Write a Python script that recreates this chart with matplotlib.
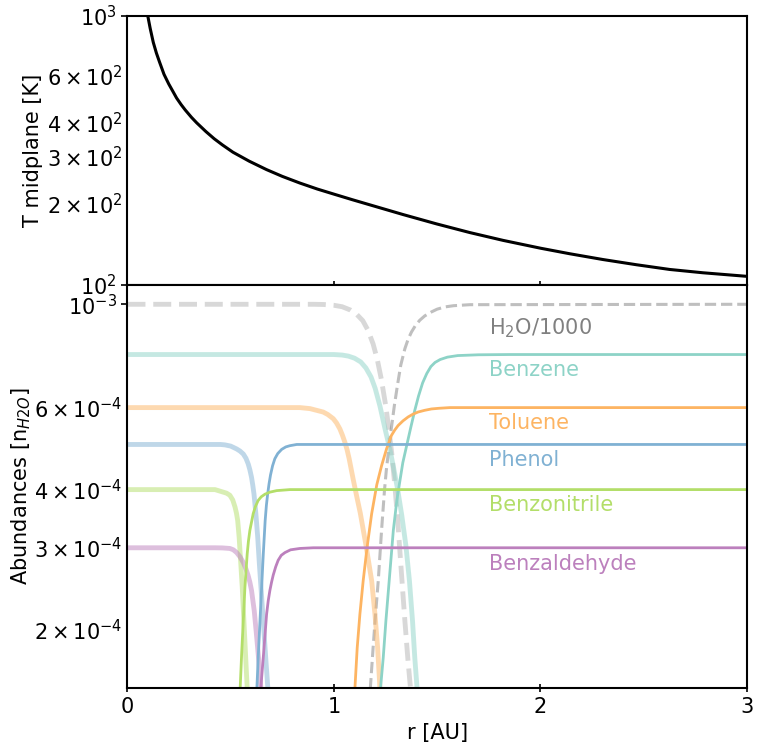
import numpy as np
import matplotlib.pyplot as plt

plt.rcParams['font.size'] = 15

# midplane temperature [K] vs r [AU]
r_T = [0.090, 0.098, 0.11, 0.125, 0.14, 0.155, 0.177, 0.2, 0.22, 0.238, 0.26, 0.28, 0.31,
       0.335, 0.38, 0.42, 0.46, 0.511, 0.59, 0.674, 0.75, 0.835, 0.92, 1.0, 1.09, 1.174,
       1.336, 1.497, 1.659, 1.820, 2.002, 2.143, 2.304, 2.466, 2.627, 2.789, 3.0]
T_mid = [1089, 1000, 896, 795, 726, 673, 605, 557, 523, 494, 467, 446, 419,
         400, 371, 349, 331, 311, 288, 268, 253, 239, 227, 217.4, 207.2, 198.4,
         182.5, 168.6, 156.5, 146.4, 136.9, 130.6, 124.3, 118.9, 114.2, 111.0, 107.7]

# abundances in units of 1e-4 (water divided by 1000)
h2o_ice_r = [0.0, 0.90, 0.95, 1.00, 1.04, 1.08, 1.11, 1.14, 1.165, 1.19, 1.21, 1.23, 1.25,
             1.265, 1.28, 1.295, 1.31, 1.328, 1.344, 1.358, 1.371, 1.385]
h2o_ice = [10.0, 10.0, 9.99, 9.95, 9.88, 9.72, 9.52, 9.22, 8.80, 8.22, 7.62, 6.90, 6.10,
           5.45, 4.80, 4.10, 3.40, 2.62, 2.09, 1.74, 1.50, 1.27]
h2o_gas_r = [1.165, 1.178, 1.190, 1.202, 1.215, 1.231, 1.245, 1.254, 1.264, 1.278, 1.293, 1.308,
             1.324, 1.344, 1.36, 1.376, 1.395, 1.416, 1.44, 1.473, 1.50, 1.538, 1.58, 1.659, 3.0]
h2o_gas = [1.27, 1.53, 1.83, 2.16, 2.55, 3.27, 3.98, 4.40, 4.81, 5.40, 6.06, 6.70,
           7.40, 8.03, 8.42, 8.72, 9.00, 9.24, 9.44, 9.63, 9.76, 9.87, 9.93, 9.98, 10.0]

bz_ice_r = [0.0, 1.0, 1.04, 1.07, 1.10, 1.13, 1.155, 1.18, 1.20, 1.223, 1.247, 1.271, 1.290,
            1.310, 1.329, 1.349, 1.366, 1.381, 1.392, 1.403, 1.414]
bz_ice = [7.8, 7.8, 7.78, 7.74, 7.66, 7.52, 7.30, 6.98, 6.60, 6.05, 5.42, 4.89, 4.44,
          3.98, 3.52, 3.03, 2.55, 2.09, 1.74, 1.50, 1.27]
bz_gas_r = [1.215, 1.226, 1.239, 1.252, 1.268, 1.288, 1.305, 1.320, 1.334, 1.353, 1.373, 1.392,
            1.41, 1.43, 1.45, 1.47, 1.49, 1.515, 1.55, 1.60, 1.70, 1.85, 3.0]
bz_gas = [1.27, 1.50, 1.74, 2.09, 2.55, 3.27, 3.79, 4.18, 4.57, 4.98, 5.45, 5.92,
          6.35, 6.78, 7.10, 7.35, 7.50, 7.61, 7.70, 7.76, 7.79, 7.8, 7.8]

tol_ice_r = [0.0, 0.835, 0.884, 0.948, 0.97, 0.997, 1.013, 1.029, 1.041, 1.053, 1.064, 1.074,
             1.093, 1.110, 1.128, 1.157, 1.183, 1.199, 1.212, 1.223, 1.232]
tol_ice = [6.0, 6.0, 5.97, 5.87, 5.80, 5.68, 5.56, 5.40, 5.24, 5.06, 4.87, 4.66,
           4.22, 3.88, 3.56, 3.01, 2.55, 2.16, 1.83, 1.50, 1.27]
tol_gas_r = [1.092, 1.102, 1.113, 1.126, 1.142, 1.161, 1.183, 1.208, 1.231, 1.255, 1.279, 1.295,
             1.311, 1.335, 1.360, 1.384, 1.408, 1.44, 1.473, 1.51, 1.562, 3.0]
tol_gas = [1.27, 1.50, 1.83, 2.16, 2.55, 3.01, 3.55, 4.10, 4.50, 4.89, 5.23, 5.37,
           5.49, 5.62, 5.73, 5.81, 5.87, 5.92, 5.96, 5.98, 6.0, 6.0]

ph_ice_r = [0.0, 0.45, 0.472, 0.50, 0.529, 0.545, 0.561, 0.574, 0.585, 0.593, 0.601, 0.607,
            0.613, 0.622, 0.631, 0.639, 0.650, 0.661, 0.671, 0.680, 0.691]
ph_ice = [5.0, 5.0, 4.99, 4.96, 4.89, 4.84, 4.77, 4.67, 4.54, 4.41, 4.25, 4.09,
          3.91, 3.55, 3.16, 2.77, 2.35, 1.99, 1.71, 1.50, 1.27]
ph_gas_r = [0.620, 0.627, 0.634, 0.642, 0.650, 0.658, 0.667, 0.673, 0.679, 0.686, 0.693, 0.703,
            0.714, 0.728, 0.747, 0.767, 0.787, 0.82, 3.0]
ph_gas = [1.27, 1.50, 1.77, 2.09, 2.47, 2.91, 3.43, 3.70, 3.91, 4.12, 4.30, 4.50,
          4.66, 4.78, 4.88, 4.94, 4.97, 5.0, 5.0]

bn_ice_r = [0.0, 0.424, 0.464, 0.48, 0.496, 0.51, 0.521, 0.528, 0.534, 0.541, 0.548, 0.556,
            0.564, 0.572, 0.580, 0.587]
bn_ice = [4.0, 4.0, 3.95, 3.93, 3.89, 3.80, 3.67, 3.56, 3.43, 3.16, 2.82, 2.47,
          2.09, 1.77, 1.50, 1.27]
bn_gas_r = [0.539, 0.546, 0.553, 0.561, 0.569, 0.580, 0.586, 0.593, 0.609, 0.62, 0.633, 0.648,
            0.666, 0.69, 0.723, 0.787, 3.0]
bn_gas = [1.27, 1.50, 1.77, 2.09, 2.47, 2.91, 3.10, 3.27, 3.55, 3.68, 3.79, 3.86,
          3.91, 3.95, 3.98, 4.0, 4.0]

ba_ice_r = [0.0, 0.424, 0.46, 0.496, 0.513, 0.529, 0.545, 0.561, 0.573, 0.584, 0.593, 0.601,
            0.614, 0.626, 0.637, 0.646, 0.656]
ba_ice = [3.0, 3.0, 2.998, 2.99, 2.97, 2.93, 2.87, 2.79, 2.71, 2.62, 2.53, 2.43,
          2.20, 1.93, 1.70, 1.50, 1.27]
ba_gas_r = [0.634, 0.646, 0.659, 0.674, 0.682, 0.690, 0.698, 0.706, 0.718, 0.730, 0.745, 0.763,
            0.79, 0.835, 0.9, 3.0]
ba_gas = [1.27, 1.50, 1.77, 2.16, 2.31, 2.43, 2.53, 2.62, 2.73, 2.82, 2.89, 2.93,
          2.97, 2.99, 3.0, 3.0]

names = ['H$_2$O/1000', 'Benzene', 'Toluene', 'Phenol', 'Benzonitrile', 'Benzaldehyde']
levels = [10.0, 7.8, 6.0, 5.0, 4.0, 3.0]
colors = ['grey', '#8dd3c7', '#fdb462', '#80b1d3', '#b3de69', '#bc80bd']

ice = [(bz_ice_r, bz_ice), (tol_ice_r, tol_ice), (ph_ice_r, ph_ice), (bn_ice_r, bn_ice), (ba_ice_r, ba_ice)]
gas = [(bz_gas_r, bz_gas), (tol_gas_r, tol_gas), (ph_gas_r, ph_gas), (bn_gas_r, bn_gas), (ba_gas_r, ba_gas)]

fig = plt.figure(figsize=(7.62, 7.5), dpi=100)
ax1 = fig.add_axes([0.1673, 0.62, 0.8126, 0.3593])
ax2 = fig.add_axes([0.1673, 0.0827, 0.8126, 0.5373], sharex=ax1)

# top panel: temperature
ax1.plot(r_T, T_mid, color='k', lw=2.2)
ax1.set_yscale('log')
ax1.set_ylim(100, 1000)
ax1.set_ylabel('T midplane [K]', labelpad=3)
ax1.tick_params(axis='x', labelbottom=False)

# bottom panel: abundances, ice faded and thick, gas solid
ax2.plot(h2o_ice_r, np.array(h2o_ice) * 1e-4, color='grey', alpha=0.3, lw=3.5, ls='--')
ax2.plot(h2o_gas_r, np.array(h2o_gas) * 1e-4, color='grey', alpha=0.5, lw=2.2, ls='--')
for (r, a), c in zip(ice, colors[1:]):
    ax2.plot(r, np.array(a) * 1e-4, color=c, alpha=0.5, lw=3.5)
for (r, a), c in zip(gas, colors[1:]):
    ax2.plot(r, np.array(a) * 1e-4, color=c, lw=2)

for name, lev, c in zip(names, levels, colors):
    f = 0.89 if name.startswith('H') else 0.925
    ax2.text(1.75, lev * f * 1e-4, name, color=c, va='center')

ax2.set_yscale('log')
ax2.set_ylim(1.5e-4, 1.1e-3)
ax2.set_xlim(0, 3)
ax2.set_xticks([0, 1, 2, 3])
ax2.set_xlabel('r [AU]')
ax2.set_ylabel(r'Abundances [n$_{H2O}$]', labelpad=1)

for ax in (ax1, ax2):
    for s in ax.spines.values():
        s.set_linewidth(1.5)
    ax.tick_params(axis='x', direction='inout', length=6, width=1.2)
    ax.tick_params(axis='y', which='major', length=4, width=1.2)
    ax.tick_params(axis='y', which='minor', length=0)

fig.savefig('out.png', dpi=100)
